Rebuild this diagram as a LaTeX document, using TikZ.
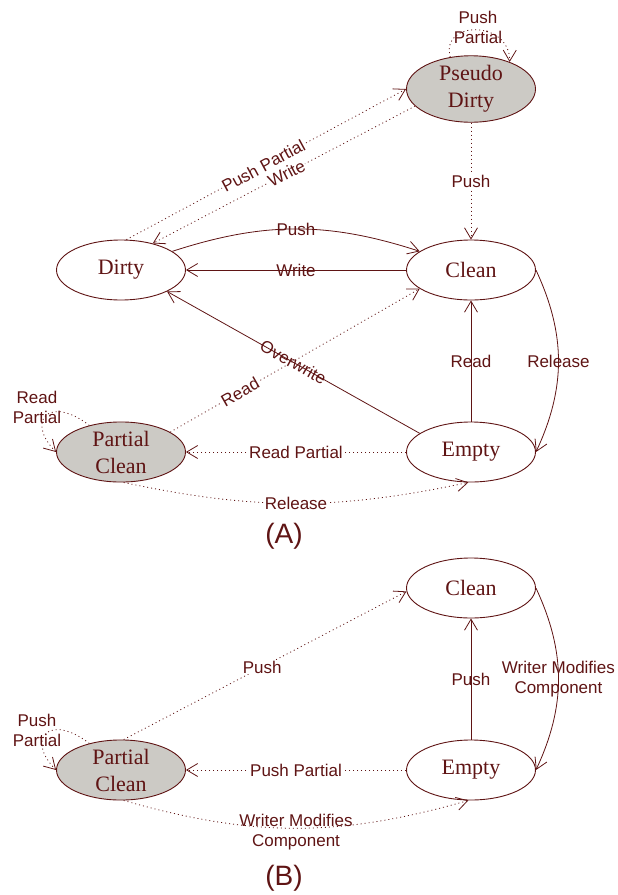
\documentclass[tikz,border=0pt]{standalone}
\usepackage{fontspec}
\setmainfont{Liberation Serif}
\setsansfont{Liberation Sans}
\usetikzlibrary{arrows.meta,shapes.geometric}
\definecolor{mar}{RGB}{95,20,20}
\definecolor{stategray}{RGB}{204,202,197}
\begin{document}
\begin{tikzpicture}[x=1pt,y=1pt,
  st/.style={ellipse,draw=mar,line width=0.9pt,minimum width=129pt,minimum height=60pt,inner sep=0pt,align=center,text=mar,font=\fontsize{22}{27}\selectfont},
  gst/.style={st,fill=stategray},
  ar/.style={draw=mar,line width=0.8pt,-{Straight Barb[length=11pt,width=13pt]}},
  dt/.style={ar,dash pattern=on 1pt off 3pt},
  lb/.style={text=mar,font=\sffamily\fontsize{17}{20}\selectfont,align=center,inner sep=1pt},
  lbw/.style={lb,fill=white},
  ttl/.style={text=mar,font=\sffamily\fontsize{28}{32}\selectfont}
]
\useasboundingbox (0,0) rectangle (618,-895);
% states (A)
\node[gst] (pd) at (471,-89) {Pseudo\\Dirty};
\node[st] (dirty) at (121,-270) {Dirty};
\node[st] (clean) at (471,-270) {Clean};
\node[st] (empty) at (471,-452) {Empty};
\node[gst] (pc) at (121,-452) {Partial\\Clean};
\node[ttl] (ta) at (284,-536) {(A)};
% states (B)
\node[st] (cleanb) at (471,-588) {Clean};
\node[st] (emptyb) at (471,-770) {Empty};
\node[gst] (pcb) at (121,-770) {Partial\\Clean};
\node[ttl] (tb) at (284,-878) {(B)};

% edges (A)
\draw[dt] (pd.123) .. controls (440,-20) and (510,-20) .. (pd.35);
\node[lb] (lpd) at (478,-27) {Push\\Partial};
\draw[dt] (dirty.80) -- node[lbw,sloped,pos=0.49] {Push Partial} (pd.west);
\draw[dt] (pd.197) -- node[lbw,sloped,pos=0.49] {Write} (dirty.40);
\draw[dt] (pd.south) -- node[lbw] {Push} (clean.north);
\draw[ar] (dirty.20) to[bend left=18] node[lb,pos=0.5] {Push} (clean.160);
\draw[ar] (clean.west) -- node[lb] {Write} (dirty.east);
\draw[ar] (empty.160) -- node[lb,sloped] {Overwrite} (dirty.335);
\draw[dt] (pc.22) -- node[lbw,sloped,pos=0.28] {Read} (clean.200);
\draw[ar] (empty.north) -- node[lb] {Read} (clean.south);
\draw[ar] (clean.east) to[bend left=25] node[lb] {Release} (empty.east);
\draw[dt] (empty.west) -- node[lbw] {Read Partial} (pc.east);
\draw[dt] (pc.-85) to[bend right=12] node[lbw] {Release} (empty.-95);
\draw[dt] (pc.140) .. controls (50,-395) and (25,-420) .. (pc.west);
\node[lb] (lpc) at (37,-407) {Read\\Partial};

% edges (B)
\draw[dt] (pcb.85) -- node[lbw,pos=0.49] {Push} (cleanb.183);
\draw[ar] (emptyb.north) -- node[lb] {Push} (cleanb.south);
\draw[ar] (cleanb.east) to[bend left=25] node[lb] {Writer Modifies\\Component} (emptyb.east);
\draw[dt] (emptyb.west) -- node[lbw] {Push Partial} (pcb.east);
\draw[dt] (pcb.-85) to[bend right=16] node[lb,yshift=-4pt] {Writer Modifies\\Component} (emptyb.-95);
\draw[dt] (pcb.140) .. controls (50,-713) and (25,-738) .. (pcb.west);
\node[lb] (lpcb) at (37,-730) {Push\\Partial};
\end{tikzpicture}
\end{document}
